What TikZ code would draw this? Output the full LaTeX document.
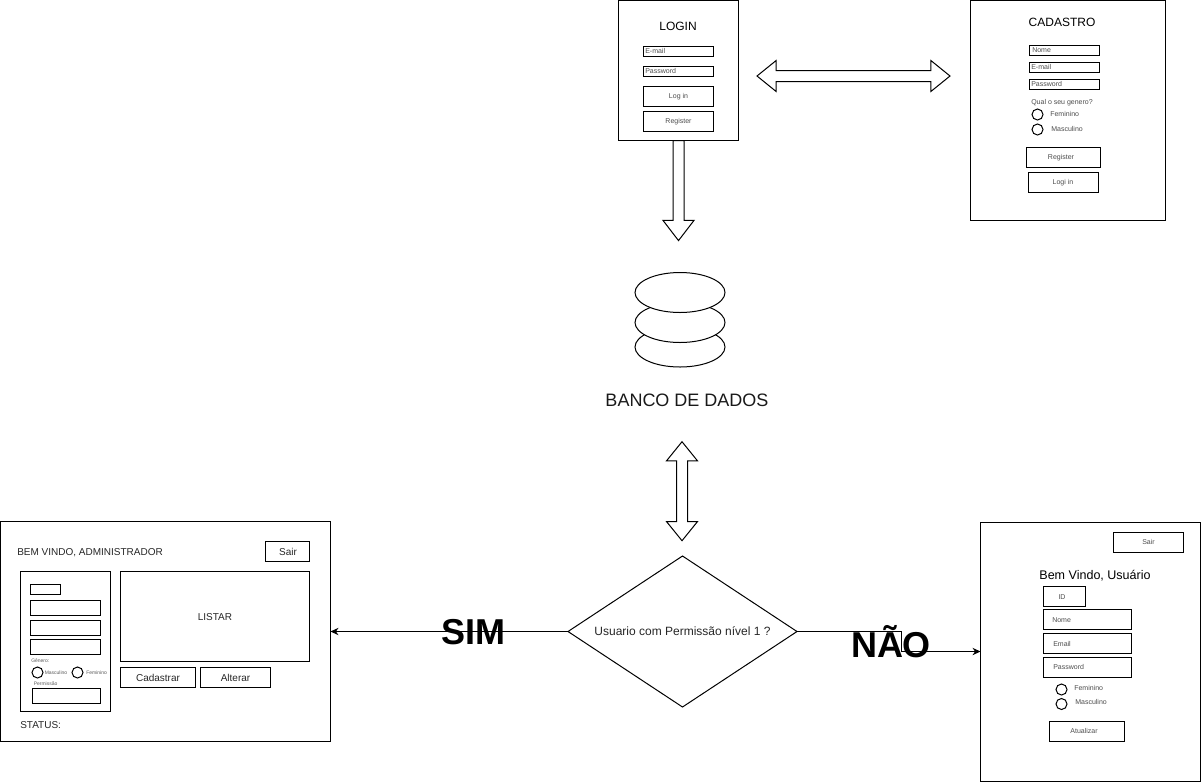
\documentclass[tikz,border=0pt]{standalone}
\usepackage{fontspec}
\setmainfont{Liberation Sans}
\usetikzlibrary{arrows.meta, shapes.geometric, shapes.arrows}

\tikzset{
	box/.style = {draw, line width=0.75pt, rectangle, anchor=north west, inner sep=0pt, outer sep=0pt},
	size/.style 2 args = {minimum width=#1*0.75pt, minimum height=#2*0.75pt},
	radio/.style = {draw, line width=0.75pt, circle, inner sep=0pt, minimum size=8.25pt},
	disc/.style = {draw, line width=0.75pt, ellipse, fill=white, inner sep=0pt, minimum width=67.5pt, minimum height=30pt},
	tinytxt/.style = {inner sep=0pt, text=black!65, text height=2.7pt, text depth=0pt, font=\fontsize{3.75}{4.5}\selectfont},
	smalltxt/.style = {inner sep=0pt, text=black!70, text height=3.8pt, text depth=0pt, font=\fontsize{5.25}{6}\selectfont},
	midtxt/.style = {inner sep=0pt, text=black!85, text height=5.4pt, text depth=0pt, font=\fontsize{7.5}{9}\selectfont},
	titletxt/.style = {inner sep=0pt, text height=6.5pt, text depth=0pt, font=\fontsize{9}{11}\selectfont},
	bigtxt/.style = {inner sep=0pt, anchor=base, font=\bfseries\fontsize{27}{30}\selectfont},
	onearrow/.style = {draw, line width=0.75pt, single arrow, inner sep=3.75pt, outer sep=0pt,
		single arrow head extend=7.5pt, single arrow tip angle=75, minimum width=22.5pt},
	twoarrow/.style = {draw, line width=0.75pt, double arrow, inner sep=3.75pt, outer sep=0pt,
		double arrow head extend=7.5pt, double arrow tip angle=78, minimum width=22.5pt},
	conn/.style = {line width=0.75pt, -{Stealth[length=6pt, width=5.5pt]}},
}

\begin{document}
\begin{tikzpicture}[x=0.75pt, y=-0.75pt]
\useasboundingbox (0, 0) rectangle (1202, 783);

% login
\node[box, size={120}{140}] (login) at (618.5, 0.5) {};
\node[titletxt] (loginTitle) at (678, 26) {LOGIN};
\node[box, size={70}{10}] (loginMail) at (643.5, 46.5) {};
\node[box, size={70}{10}] (loginPass) at (643.5, 66.5) {};
\node[box, size={70}{20}] (loginBtn) at (643.5, 86.5) {};
\node[box, size={70}{20}] (loginReg) at (643.5, 111.5) {};
\node[smalltxt, anchor=west] (loginMailTxt) at (645, 50.5) {E-mail};
\node[smalltxt, anchor=west] (loginPassTxt) at (645, 70.5) {Password};
\node[smalltxt] (loginBtnTxt) at (678.5, 95.5) {Log in};
\node[smalltxt] (loginRegTxt) at (678.5, 120.5) {Register};

% cadastro
\node[box, size={195}{220}] (cadastro) at (970.5, 0.5) {};
\node[titletxt] (cadTitle) at (1062, 22) {CADASTRO};
\node[box, size={70}{10}] (cadNome) at (1029.5, 45.5) {};
\node[box, size={70}{10}] (cadMail) at (1029.5, 62.5) {};
\node[box, size={70}{10}] (cadPass) at (1029.5, 79.5) {};
\node[smalltxt, anchor=west] (cadNomeTxt) at (1032, 49.5) {Nome};
\node[smalltxt, anchor=west] (cadMailTxt) at (1031, 66.5) {E-mail};
\node[smalltxt, anchor=west] (cadPassTxt) at (1031, 83.5) {Password};
\node[smalltxt, anchor=west] (cadGen) at (1031, 101.5) {Qual o seu genero?};
\node[radio] (cadFem) at (1037.5, 114.5) {};
\node[radio] (cadMasc) at (1037.5, 129.5) {};
\node[smalltxt, anchor=west] (cadFemTxt) at (1050, 113.5) {Feminino};
\node[smalltxt, anchor=west] (cadMascTxt) at (1051, 128.5) {Masculino};
\node[box, size={74}{20}] (cadReg) at (1026.5, 147.5) {};
\node[box, size={70}{20}] (cadLog) at (1028.5, 172.5) {};
\node[smalltxt] (cadRegTxt) at (1061, 156.5) {Register};
\node[smalltxt] (cadLogTxt) at (1063, 181.5) {Logi in};

% arrows up top
\node[twoarrow, minimum height=144.75pt] (arrowTop) at (853.5, 76) {};
\node[onearrow, shape border rotate=270, minimum height=75pt] (arrowDown) at (678.5, 187) {};

% banco
\node[disc] (discC) at (680, 347) {};
\node[disc] (discB) at (680, 322.5) {};
\node[disc] (discA) at (680, 292.5) {};
\node[inner sep=0pt, text height=9.7pt, text depth=0pt, font=\fontsize{13.5}{16}\selectfont, text=black!90] (banco) at (687, 400) {BANCO DE DADOS};

\node[twoarrow, shape border rotate=90, minimum height=74.25pt] (arrowMid) at (682, 491.2) {};

% decisao
\node[draw, line width=0.75pt, diamond, aspect=1.52, inner sep=0pt, outer sep=0pt, minimum width=171.75pt, minimum height=113.25pt,
	text height=6.5pt, text depth=0pt, font=\fontsize{9}{11}\selectfont, text=black!85] (decide) at (682.5, 631.5) {Usuario com Permissão nível 1 ?};

% admin
\node[box, size={330}{220}] (admin) at (0.5, 521.5) {};
\node[midtxt, anchor=west] (adminTitle) at (17, 552) {BEM VINDO, ADMINISTRADOR};
\node[box, size={44}{20}] (adminSair) at (265.5, 541.5) {};
\node[midtxt] (adminSairTxt) at (288, 551.5) {Sair};
\node[box, size={90}{140}] (panel) at (20.5, 571.5) {};
\node[box, size={30}{10}] (panelId) at (30.5, 584.5) {};
\node[box, size={70}{15}] (panelNome) at (30.5, 600.5) {};
\node[box, size={70}{15}] (panelMail) at (30.5, 620.5) {};
\node[box, size={70}{15}] (panelPass) at (30.5, 639.5) {};
\node[tinytxt, anchor=west] (panelGen) at (31, 661) {Gênero:};
\node[radio] (panelMasc) at (37.5, 672.5) {};
\node[radio] (panelFem) at (77.5, 672.5) {};
\node[tinytxt, anchor=west] (panelMascTxt) at (44.5, 672.5) {Masculino};
\node[tinytxt, anchor=west] (panelFemTxt) at (86, 672.5) {Feminino};
\node[tinytxt, anchor=west] (panelPerm) at (33.5, 683.5) {Permissão};
\node[box, size={68}{15}] (panelPermBox) at (32.5, 688.5) {};
\node[box, size={189}{90}, midtxt, text=black!85] (listar) at (120.5, 571.5) {LISTAR};
\node[box, size={75}{20}, midtxt, text=black!85] (adminCad) at (120.5, 667.5) {Cadastrar};
\node[box, size={70}{20}, midtxt, text=black!85] (adminAlt) at (200.5, 667.5) {Alterar};
\node[midtxt, anchor=west] (adminStatus) at (20, 725) {STATUS:};

% usuario
\node[box, size={220}{259}] (usuario) at (980.5, 522) {};
\node[box, size={70}{20}] (userSair) at (1113.5, 532) {};
\node[smalltxt] (userSairTxt) at (1148.5, 541.5) {Sair};
\node[titletxt, font=\fontsize{9.4}{11}\selectfont] (userTitle) at (1095, 575) {Bem Vindo, Usuário};
\node[box, size={42}{20}] (userId) at (1043.5, 586) {};
\node[box, size={88}{20}] (userNome) at (1043.5, 609.5) {};
\node[box, size={88}{20}] (userMail) at (1043.5, 633.5) {};
\node[box, size={88}{20}] (userPass) at (1043.5, 657) {};
\node[smalltxt] (userIdTxt) at (1062, 596.5) {ID};
\node[smalltxt, anchor=west] (userNomeTxt) at (1052, 619.5) {Nome};
\node[smalltxt, anchor=west] (userMailTxt) at (1053, 643.5) {Email};
\node[smalltxt, anchor=west] (userPassTxt) at (1053, 666.5) {Password};
\node[radio] (userFem) at (1061.5, 689.5) {};
\node[radio] (userMasc) at (1061.5, 704) {};
\node[smalltxt, anchor=west] (userFemTxt) at (1074, 687.5) {Feminino};
\node[smalltxt, anchor=west] (userMascTxt) at (1075, 702) {Masculino};
\node[box, size={75}{20}] (userAtu) at (1049.5, 721) {};
\node[smalltxt] (userAtuTxt) at (1084, 730.5) {Atualizar};

% ligacoes
\coordinate (bend) at (901, 631.5);
\draw[conn] (decide.west) -- (decide.west -| admin.east);
\draw[conn] (decide.east) -- (bend) -- (bend |- usuario.west) -- (usuario.west);

\node[bigtxt] (sim) at (473, 644.5) {SIM};
\node[bigtxt] (nao) at (891, 657.5) {NÃO};
\end{tikzpicture}
\end{document}
